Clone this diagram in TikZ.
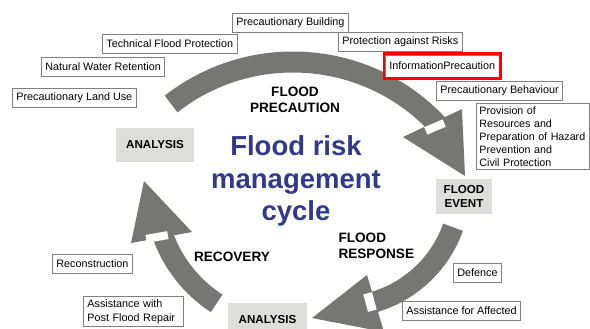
\documentclass[tikz,border=0pt]{standalone}
\usepackage{fontspec}
\setmainfont{Liberation Sans}
\usetikzlibrary{fit}

\definecolor{cyclegray}{RGB}{118,118,114}
\definecolor{titleblue}{RGB}{50,56,140}
\definecolor{phasefill}{RGB}{221,221,218}
\definecolor{boxline}{RGB}{128,128,128}

\begin{document}
\begin{tikzpicture}[
    x=1pt, y=-1pt, % pixel grid, y runs downwards
    band/.style={draw=cyclegray, line width=21pt}, % body of a cycle arrow
    gapmark/.style={fill=white, inner sep=0pt}, % white notch behind a head
    measure/.style={draw=boxline, line width=0.8pt, fill=white, anchor=west,
        inner xsep=4pt, inner ysep=3pt, minimum height=19pt,
        font=\fontsize{10.8}{13}\selectfont}, % boxed measure
    phase/.style={fill=phasefill, align=center,
        font=\bfseries\fontsize{11.6}{14}\selectfont}, % grey phase box
    stage/.style={font=\bfseries\fontsize{13.6}{16}\selectfont} % stage caption
]
    \useasboundingbox (0,0) rectangle (590,329);
    \clip (0,0) rectangle (590,329);

    % Cycle arrows
    \draw[band] (293,260) ++(-128:198) arc[start angle=-128, end angle=-40, radius=198]; % precaution
    \fill[cyclegray] (403,137) -- (462,109) -- (465,176) -- cycle;
    \node[gapmark, minimum width=20pt, minimum height=8pt, rotate=23] (gapP) at (435,127) {};

    \draw[band] (340,187) ++(19.6:120) arc[start angle=19.6, end angle=77, radius=120]; % response
    \fill[cyclegray] (367,275) -- (384,332) -- (312,318) -- cycle;
    \node[gapmark, minimum width=18pt, minimum height=9pt, rotate=-75] (gapR) at (370,302) {};

    \draw[band] (290,190) ++(122.9:135) arc[start angle=122.9, end angle=164, radius=135]; % recovery
    \fill[cyclegray] (131,243) -- (192,232) -- (144,181) -- cycle;
    \node[gapmark, minimum width=22pt, minimum height=8pt, rotate=10] (gapC) at (157,237) {};

    % Title
    \node[text=titleblue, align=center, font=\bfseries\fontsize{27.5}{32.5}\selectfont]
        (title) at (296,181) {Flood risk\\management\\cycle};

    % Phases and stages
    \node[phase, minimum width=78pt, minimum height=34pt] (analysisA) at (155,145) {ANALYSIS};
    \node[phase, minimum width=56pt, minimum height=35pt] (event) at (464,196.5) {FLOOD\\EVENT};
    \node[phase, minimum width=79pt, minimum height=34pt] (analysisB) at (267.5,320) {ANALYSIS};
    \node[stage, align=center] (precaution) at (295,100) {FLOOD\\PRECAUTION};
    \node[stage, align=left, anchor=west] (response) at (335,246) {FLOOD\\RESPONSE};
    \node[stage] (recovery) at (232,257) {RECOVERY};

    % Precaution measures
    \node[measure] (building) at (232,22.5) {Precautionary Building};
    \node[measure] (technical) at (102,43.5) {Technical Flood Protection};
    \node[measure] (retention) at (41,67) {Natural Water Retention};
    \node[measure] (landuse) at (12,97.5) {Precautionary Land Use};
    \node[measure] (risks) at (338,42) {Protection against Risks};
    \node[measure, minimum height=22pt] (info) at (385,66) {InformationPrecaution};
    \node[fit=(info), draw=red, line width=2.6pt, inner sep=1.2pt] (infomark) {};
    \node[measure] (behaviour) at (436,90.5) {Precautionary Behaviour};
    \node[measure, anchor=north west, text width=106.5pt, inner xsep=3pt, align=left,
        font=\fontsize{10.7}{13}\selectfont] (provision) at (476,103)
        {Provision of\\Resources and\\Preparation of Hazard\\Prevention and\\Civil Protection};

    % Response and recovery measures
    \node[measure] (defence) at (453,272.5) {Defence};
    \node[measure] (affected) at (402,310.5) {Assistance for Affected};
    \node[measure] (reconstruction) at (52,264) {Reconstruction};
    \node[measure, text width=92pt, align=left, font=\fontsize{10.8}{13.5}\selectfont]
        (repair) at (83,311.5) {Assistance with\\Post Flood Repair};
\end{tikzpicture}
\end{document}
